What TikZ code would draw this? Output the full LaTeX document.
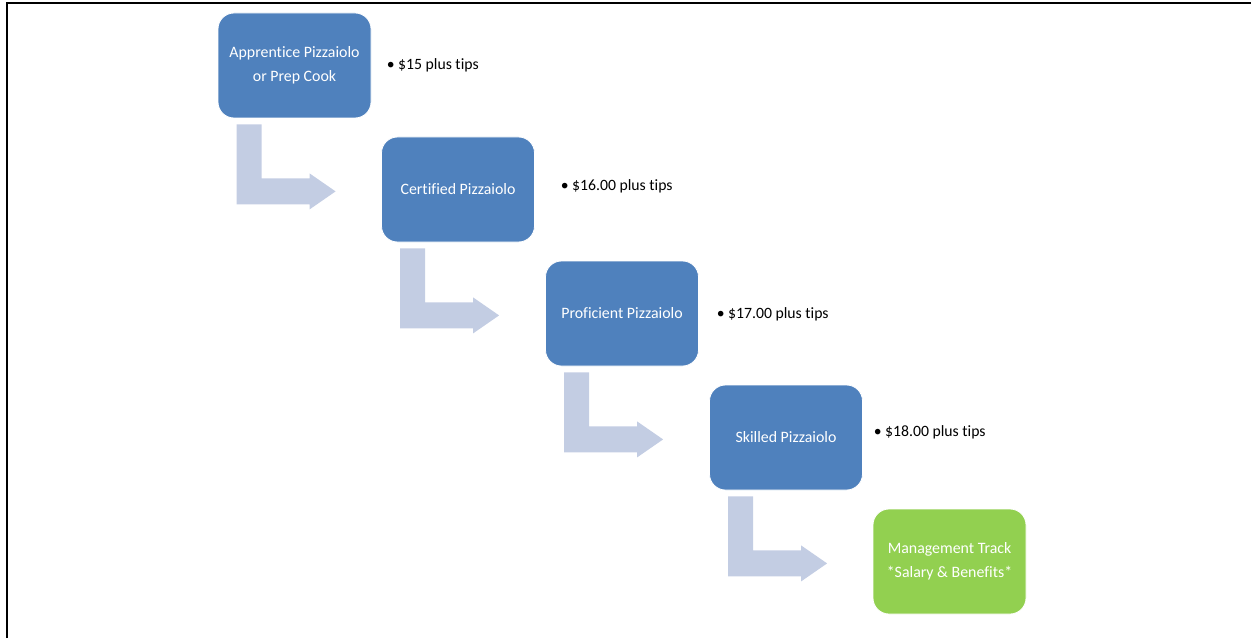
\documentclass[tikz,border=0pt]{standalone}
\usepackage{fontspec}
\setmainfont{Carlito}[Ligatures=NoCommon]
\definecolor{stepblue}{HTML}{4F81BD}
\definecolor{stepgreen}{HTML}{92D050}
\definecolor{arrowgray}{RGB}{195,205,227}
\tikzset{
  stepbox/.style={rounded corners=12pt, fill=stepblue, draw=white, line width=0.6pt,
    minimum width=114.75pt, minimum height=78.75pt, text=white, align=center,
    font=\fontsize{11.9pt}{18pt}\selectfont, inner sep=0pt},
  paylabel/.style={anchor=west, inner sep=0pt, font=\fontsize{11.8pt}{13pt}\selectfont}
}
\begin{document}
\begin{tikzpicture}[x=0.75pt, y=-0.75pt]
		\useasboundingbox (0,0) rectangle (1251,638);

		% Frame lines on top and left
		\draw[line width=1.5pt] (6.7,638) -- (6.7,2.7) -- (1251,2.7);

		% Career steps
		\node[stepbox] (b1) at (294.5,65.5) {Apprentice Pizzaiolo\\or Prep Cook};
		\node[stepbox] (b2) at (458,189.5) {Certified Pizzaiolo};
		\node[stepbox] (b3) at (622,313.5) {Proficient Pizzaiolo};
		\node[stepbox] (b4) at (786,437.5) {Skilled Pizzaiolo};
		\node[stepbox, fill=stepgreen] (b5) at (949.5,561.5) {Management Track\\*Salary \& Benefits*};

		% Bent arrows below each step
		\foreach \i in {1,2,3,4} {
				\fill[arrowgray, shift={(b\i.south west)}]
					(19,6) -- (44,6) -- (44,60) -- (92,60) -- (92,55) -- (118,73)
					-- (92,91) -- (92,86) -- (19,86) -- cycle;
			}

		% Pay for each step
		\node[paylabel] (p1) at (386.5,65.5) {• \$15 plus tips};
		\node[paylabel] (p2) at (560.5,186.5) {• \$16.00 plus tips};
		\node[paylabel] (p3) at (716.5,314.5) {• \$17.00 plus tips};
		\node[paylabel] (p4) at (873.5,432.5) {• \$18.00 plus tips};
	\end{tikzpicture}
\end{document}
